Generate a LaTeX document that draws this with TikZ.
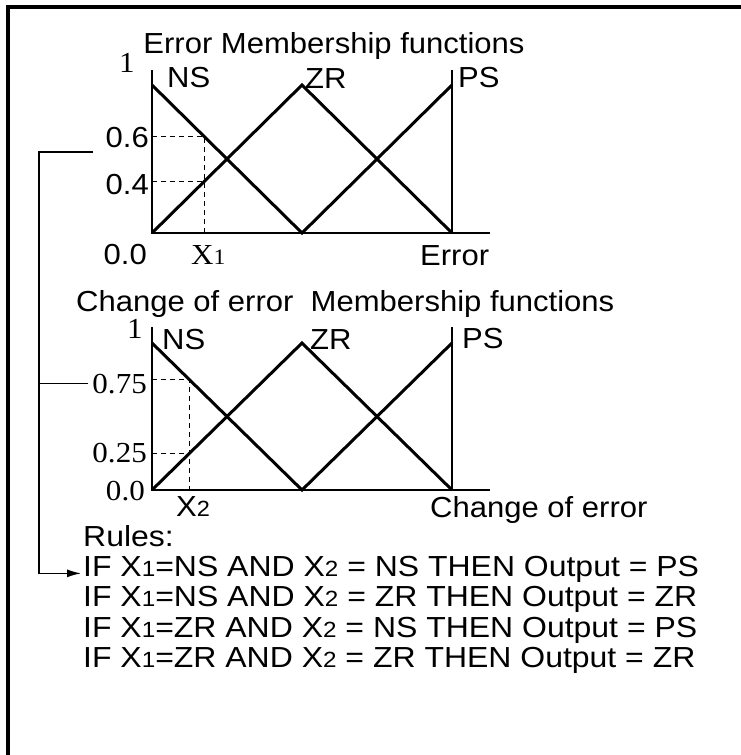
\documentclass[tikz,border=0pt]{standalone}
\usepackage{fontspec}
\setmainfont{Liberation Sans}
\newfontfamily\romfont{Liberation Serif}
\usetikzlibrary{arrows.meta, positioning}
\tikzset{
  >={Latex[length=14pt, width=8pt]},
  lbl/.style={inner sep=0pt, xscale=1.07, font=\fontsize{29}{32}\selectfont},
  num/.style={lbl, font=\fontsize{29}{32}\selectfont\romfont},
  rule/.style={lbl, xscale=1.03, anchor=base west},
  mf/.style={line width=3pt},
  axis/.style={line width=1.3pt},
  wire/.style={line width=1.3pt},
  guide/.style={dashed, line width=0.9pt, dash pattern=on 5pt off 4pt},
}
% small index digit, sitting on the baseline
\newcommand{\ix}[1]{{\fontsize{22}{22}\selectfont #1}}

\begin{document}
\begin{tikzpicture}[x=1pt, y=-1pt]
  \useasboundingbox (0,0) rectangle (741,755);
  \clip (0,0) rectangle (741,755);
  % outer frame
  \draw[line width=4pt] (7.5,7) rectangle (780,795);

  % error: axes and membership functions
  \draw[axis] (152,70) -- (152,233) -- (490,233);
  \draw[axis] (452,70) -- (452,233);
  \draw[mf] (152,85) -- (302,233) -- (452,85);
  \draw[mf] (152,233) -- (302,85) -- (452,233);
  \draw[guide] (152,136.3) -| (204,233);
  \draw[guide] (152,181.7) -- (204,181.7);

  \node[lbl] (ttl1) at (334,46) {Error Membership functions};
  \node[num] (one1) at (127,63) {1};
  \node[lbl, anchor=base west] (ns1) at (167,87) {NS};
  \node[lbl, anchor=base west] (zr1) at (305,88) {ZR};
  \node[lbl, anchor=base west] (ps1) at (458,87) {PS};
  \node[lbl, anchor=base east] (l06) at (149,147) {0.6};
  \node[lbl, anchor=base east] (l04) at (149,194) {0.4};
  \node[lbl, anchor=base east] (l00a) at (147,264) {0.0};
  \node[num, anchor=base west] (x1) at (191,264) {X\ix{1}};
  \node[lbl, anchor=base west] (err) at (420,265) {Error};

  % change of error: axes and membership functions
  \draw[axis] (152,327) -- (152,490) -- (490,490);
  \draw[axis] (452,327) -- (452,490);
  \draw[mf] (152,343) -- (302,490) -- (452,343);
  \draw[mf] (152,490) -- (302,343) -- (452,490);
  \draw[guide] (152,379.3) -| (189,490);
  \draw[guide] (152,453.7) -- (189,453.7);

  \node[lbl, anchor=base west] (ttl2) at (76,311) {Change of error\ \ Membership functions};
  \node[num] (one2) at (135,329) {1};
  \node[lbl, anchor=base west] (ns2) at (162,349) {NS};
  \node[lbl, anchor=base west] (zr2) at (310,349) {ZR};
  \node[lbl, anchor=base west] (ps2) at (462,348) {PS};
  \node[num, anchor=base east] (l075) at (147,393) {0.75};
  \node[num, anchor=base east] (l025) at (147,462) {0.25};
  \node[num, anchor=base east] (l00b) at (145,500) {0.0};
  \node[lbl, anchor=base west] (x2) at (176,516) {X\ix{2}};
  \node[lbl, anchor=base west] (derr) at (430,517) {Change of error};

  % rule base
  \node[rule] (rules) at (83,546) {Rules:};
  \node[rule] (r1) at (83,576) {IF X\ix{1}=NS AND X\ix{2} = NS THEN Output = PS};
  \node[rule] (r2) at (83,606.5) {IF X\ix{1}=NS AND X\ix{2} = ZR THEN Output = ZR};
  \node[rule] (r3) at (83,637) {IF X\ix{1}=ZR AND X\ix{2} = NS THEN Output = PS};
  \node[rule] (r4) at (83,667.5) {IF X\ix{1}=ZR AND X\ix{2} = ZR THEN Output = ZR};

  % fuzzified inputs feed the rules
  \coordinate (tap) at (93,152);
  \coordinate (rail) at (39,152);
  \draw[wire, ->, shorten >=2pt] (tap) -- (rail) |- (r1.mid west);
  \draw[wire, shorten <=4pt] (l075) -- (l075 -| rail);
\end{tikzpicture}
\end{document}
